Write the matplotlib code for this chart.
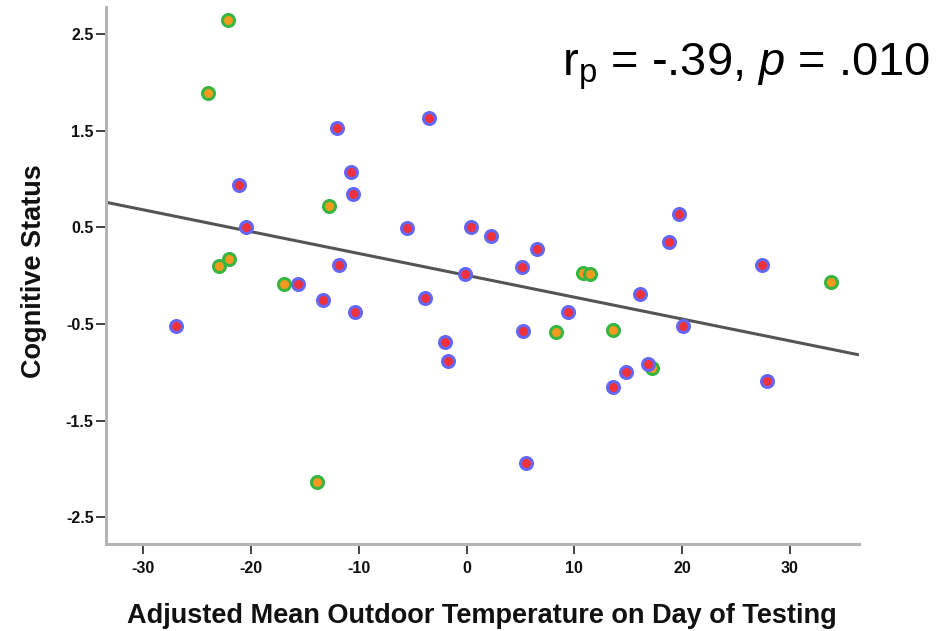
import matplotlib
matplotlib.use("Agg")
import matplotlib.pyplot as plt
import numpy as np

# ---- data ----
blue_x = [-21.15, -20.5, -15.68, -27.0, -12.06, -3.47, -10.76, -10.58, -5.51, 0.37, 2.23,
          6.49, -11.87, 5.13, -0.13, -13.36, -3.84, -10.36, 9.43, -2.01, -1.77, 5.25,
          13.54, 5.5, 20.1, 14.78, 16.85, 27.89, 19.72, 18.74, 27.42, 16.08]
blue_y = [0.938, 0.507, -0.089, -0.523, 1.531, 1.628, 1.072, 0.845, 0.496, 0.503, 0.407,
          0.273, 0.111, 0.093, 0.018, -0.251, -0.234, -0.379, -0.372, -0.682, -0.886, -0.572,
          -1.148, -1.94, -0.517, -0.996, -0.917, -1.092, 0.638, 0.348, 0.111, -0.193]
green_x = [-22.1, -24.0, -22.98, -22.08, -16.98, -13.9, -12.74, 10.76, 11.44, 8.28,
           13.6, 17.16, 33.77]
green_y = [2.645, 1.886, 0.103, 0.176, -0.089, -2.13, 0.717, 0.025, 0.014, -0.582,
           -0.561, -0.958, -0.062]

fit_intercept = 0.004
fit_slope = -0.0226

x_ticks = [-30, -20, -10, 0, 10, 20, 30]
y_ticks = [2.5, 1.5, 0.5, -0.5, -1.5, -2.5]
y_tick_labels = ["2.5", "1.5", "0.5", "-0.5", "-1.5", "-2.5"]

x_label = "Adjusted Mean Outdoor Temperature on Day of Testing"
y_label = "Cognitive Status"

# ---- figure ----
plt.rcParams['mathtext.fontset'] = 'custom'
plt.rcParams['mathtext.rm'] = 'Liberation Sans'
plt.rcParams['mathtext.it'] = 'Liberation Sans:italic'

fig = plt.figure(figsize=(9.39, 6.31), dpi=100)
ax = fig.add_axes([0.1124, 0.1379, 0.9148 - 0.1124, 0.9889 - 0.1379])
xlim = (-33.5, 36.4)
ax.set_xlim(*xlim)
ax.set_ylim(-2.775, 2.78)

xs = np.array(xlim)
ax.plot(xs, fit_intercept + fit_slope * xs, color="#555555", lw=2.2, zorder=1,
        solid_capstyle="butt")

ax.scatter(green_x, green_y, s=75, facecolor="#f39a1f", edgecolor="#36b541",
           linewidths=2.15, zorder=2)
ax.scatter(blue_x, blue_y, s=75, facecolor="#f0323c", edgecolor="#6666f5",
           linewidths=2.15, zorder=3)

for s in ("top", "right"):
    ax.spines[s].set_visible(False)
for s in ("left", "bottom"):
    ax.spines[s].set_color("#b4b4b4")
    ax.spines[s].set_linewidth(2.2)

tick_font = dict(family=["Liberation Sans Narrow", "Liberation Sans"], weight="bold", size=11.5)
ax.set_xticks(x_ticks)
ax.set_xticklabels([str(t) for t in x_ticks], fontdict=tick_font)
ax.set_yticks(y_ticks)
ax.set_yticklabels(y_tick_labels, fontdict=tick_font)
ax.tick_params(axis="both", direction="out", length=7.5, width=1.3, color="#333333",
               labelcolor="#111111")
ax.tick_params(axis="y", pad=1)
ax.tick_params(axis="x", pad=5)

ax.set_xlabel(x_label, fontsize=19.5, fontweight="bold", family="Liberation Sans",
              color="#111111", labelpad=19)
ax.set_ylabel(y_label, fontsize=19.5, fontweight="bold", family="Liberation Sans",
              color="#111111")
ax.yaxis.set_label_coords(-0.078, 0.508)

fig.text(561.7 / 939, 1 - 75 / 631, r"r$_{\mathrm{p}}$ = -.39, $\it{p}$ = .010",
         fontsize=33.8, family="Liberation Sans", ha="left", va="baseline", color="black")

fig.savefig("out.png", dpi=100)
